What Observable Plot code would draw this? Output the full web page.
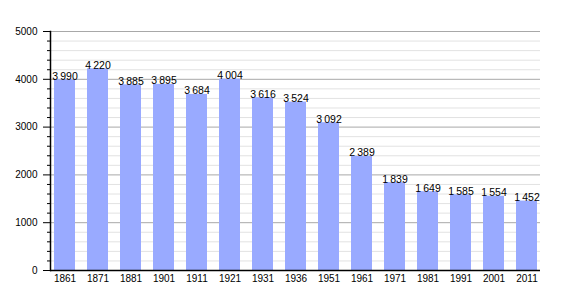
<!DOCTYPE html>
<html>
<head>
<meta charset="utf-8">
<script src="https://cdn.jsdelivr.net/npm/d3@7"></script>
<script src="https://cdn.jsdelivr.net/npm/@observablehq/plot@0.6"></script>
<style>
  html, body { margin: 0; padding: 0; background: #fff; }
  #chart svg { display: block; }
</style>
</head>
<body>
<div id="chart"></div>
<script>
const years = ["1861","1871","1881","1901","1911","1921","1931","1936","1951","1961","1971","1981","1991","2001","2011"];
const population = [3990, 4220, 3885, 3895, 3684, 4004, 3616, 3524, 3092, 2389, 1839, 1649, 1585, 1554, 1452];
const majorTicks = [0, 1000, 2000, 3000, 4000, 5000];
const minorTicks = [200,400,600,800,1200,1400,1600,1800,2200,2400,2600,2800,3200,3400,3600,3800,4200,4400,4600,4800];

const data = years.map((y, i) => ({year: y, pop: population[i]}));
const fmt = v => d3.format(",")(v).replace(/,/g, "\u2009");

const chart = Plot.plot({
  width: 570,
  height: 300,
  marginLeft: 50,
  marginRight: 30,
  marginTop: 31,
  marginBottom: 30,
  style: {fontFamily: "'Liberation Sans', Arial, sans-serif", fontSize: "10px", color: "#000", background: "#fff"},
  x: {domain: years, paddingInner: 0.37, paddingOuter: 0, label: null},
  y: {domain: [0, 5000], label: null},
  marks: [
    Plot.ruleY(minorTicks, {stroke: "#e2e2e2", strokeWidth: 1}),
    Plot.ruleY(majorTicks.filter(d => d > 0), {stroke: "#a8a8a8", strokeWidth: 1}),
    Plot.barY(data, {x: "year", y: "pop", fill: "#99aaff"}),
    Plot.text(data, {x: "year", y: "pop", text: d => fmt(d.pop), lineAnchor: "bottom", dy: 0, fontSize: 10.5, fill: "#000"}),
    Plot.axisY(minorTicks, {tickSize: 3, tickFormat: () => "", stroke: "#000"}),
    Plot.axisY(majorTicks, {tickSize: 7, tickPadding: 6, tickFormat: d => String(d), stroke: "#000", fontSize: 10}),
    Plot.axisX({tickSize: 0, tickPadding: 4, fontSize: 10}),
    Plot.ruleY([0], {stroke: "#000", strokeWidth: 1.5}),
    Plot.frame({anchor: "left", stroke: "#000", strokeWidth: 1.5})
  ]
});
document.getElementById("chart").appendChild(chart);
</script>
</body>
</html>
